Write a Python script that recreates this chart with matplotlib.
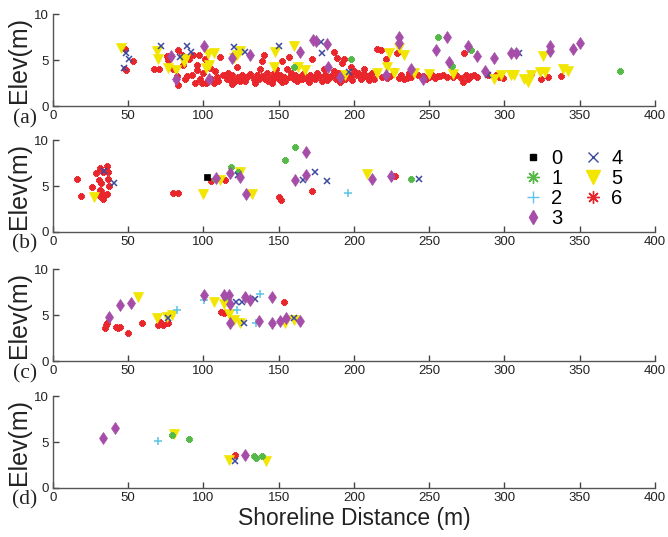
import matplotlib
matplotlib.use("Agg")
import matplotlib.pyplot as plt
from matplotlib.lines import Line2D

plt.rcParams['font.family'] = ['Liberation Sans', 'DejaVu Sans']

# axis setup
x_ticks = [0, 50, 100, 150, 200, 250, 300, 350, 400]
y_ticks = [0, 5, 10]
panel_labels = ['(a)', '(b)', '(c)', '(d)']
class_labels = ['0', '1', '2', '3', '4', '5', '6']

# ---- panel (a): (distance, elevation) per class
a_red = [(47.8, 6.2), (48, 4.0), (48.4, 3.9), (53.3, 4.9), (67, 4.0), (70.7, 4.0), (75.6, 5.5),
         (76.5, 5.0), (79.6, 4.0), (82.2, 3.3), (83.3, 2.3), (83.3, 6.1), (85.6, 5.6), (86.2, 4.5),
         (87.8, 2.9), (90.7, 5.1), (92.2, 3.4), (93.3, 5.6), (94.4, 2.5), (95.6, 4.5), (97.3, 5.6),
         (97.8, 3.0), (98.9, 2.5), (100, 3.6), (101, 5.1), (102, 2.5), (104.4, 4.1), (106.7, 2.5),
         (107.8, 3.8), (108.9, 3.2), (111, 5.3), (113.3, 3.4), (115.6, 3.0), (117.8, 2.9),
         (118.9, 3.4), (121, 2.7), (122, 4.3), (123.3, 3.2), (124.4, 2.7), (125.6, 3.4),
         (127.8, 2.7), (128.9, 3.2), (133.3, 2.9), (135.6, 3.4), (136.7, 2.9), (137.8, 4.0),
         (138.9, 4.9), (140, 5.6), (141, 2.9), (142, 3.6), (144.4, 3.1), (145.6, 2.5), (146.7, 3.6),
         (148.4, 4.0), (150, 2.9), (151, 3.4), (152.2, 4.9), (153.3, 3.2), (154.4, 2.7),
         (155.6, 4.0), (156.7, 5.4), (157.8, 3.2), (160, 2.9), (161, 3.4), (162.2, 2.7),
         (164.4, 3.2), (165.6, 2.9), (167.8, 3.2), (168.9, 2.9), (171, 3.4), (172.2, 5.1),
         (174.4, 2.9), (175.6, 3.6), (178.9, 2.7), (180, 4.0), (181, 3.4), (183.3, 3.1),
         (186.7, 5.9), (186.7, 3.8), (187.8, 3.0), (190, 3.6), (192.2, 4.7), (193.3, 5.1),
         (194.4, 2.9), (197.8, 3.2), (200, 3.8), (202.2, 3.4), (204.4, 2.9), (206.7, 4.0),
         (208.9, 3.2), (212.2, 3.6), (213.3, 2.9), (215.6, 6.2), (217.8, 6.1), (218.9, 3.2),
         (221, 5.1), (222, 3.1), (226.7, 3.8), (228.9, 5.8), (230, 3.1), (231, 3.4), (235.6, 3.1),
         (236.7, 3.6), (242.9, 3.4), (245.6, 3.3), (250, 3.2), (252.2, 3.4), (255.6, 3.3),
         (258.9, 3.4), (265.6, 3.2), (271, 3.1), (272.2, 2.6), (273.3, 5.8), (274.4, 3.4),
         (277.8, 3.3), (280, 3.4), (288.9, 3.4), (294.4, 3.4), (296.7, 3.2), (317.8, 3.5),
         (324.4, 2.9), (328.9, 3.2), (337.8, 3.3),
         (89, 3.3), (96, 3.9), (105, 3.0), (110, 2.7), (116, 3.6), (119, 2.4), (126, 3.0),
         (131, 3.5), (134, 2.5), (139, 3.3), (143, 2.7), (147, 3.1), (149, 3.5), (152, 2.6),
         (158, 3.6), (163, 3.0), (166, 3.5), (170, 2.6), (173, 3.1), (177, 3.3), (182, 2.8),
         (185, 3.3), (189, 3.3), (191, 2.6), (196, 3.5), (199, 2.8), (203, 3.6), (205, 3.1),
         (207, 3.5), (210, 2.8), (211, 3.4), (224, 3.3), (233, 2.9), (238, 3.2), (248, 3.0),
         (254, 3.1), (257, 3.3), (262, 3.2), (268, 3.4), (276, 3.0), (282, 3.2), (299, 3.1),
         (189, 5.2), (198, 4.3)]
a_yellow = [(45.3, 6.3), (68.9, 6.0), (70, 5.1), (76.7, 4.1), (82, 3.9), (87.8, 5.1), (87.3, 4.8),
            (103, 5.7), (107, 5.8), (104, 4.5), (102, 4.1), (120, 5.2), (122, 5.6), (124.4, 6.0),
            (146.7, 4.3), (147.8, 5.9), (160, 6.5), (163, 4.3), (167.8, 3.9),
            (194.4, 3.4), (215.6, 3.6), (222, 4.3), (223, 5.8), (226.7, 3.6), (230, 6.3),
            (233, 5.6), (240, 3.6), (250, 3.5), (265.6, 3.5), (293, 2.9), (297.8, 3.4),
            (304.4, 3.4), (306.7, 3.4), (313, 3.0), (315.6, 2.6), (317.8, 3.4), (324, 3.7),
            (326.7, 3.7), (325.6, 5.5), (338.9, 4.0), (342, 3.8)]
a_purple = [(78.4, 5.5), (82, 2.9), (100.4, 6.5), (104, 2.9), (118.7, 5.2), (131, 5.6), (164, 5.9),
            (173, 7.2), (175, 7.1), (182, 6.8), (183, 4.3), (191, 3.2), (221, 3.4), (230, 7.5),
            (230, 6.9), (237.8, 4.0), (246, 3.0), (254.4, 6.1), (262, 7.5), (263.3, 4.8),
            (276, 6.6), (282, 5.5), (287, 3.8), (293, 5.2), (304.4, 5.8), (307.8, 5.8),
            (330, 6.5), (330, 6.0), (345.6, 6.2), (350, 6.9)]
a_green = [(160, 4.3), (197.8, 5.1), (255.6, 7.5), (278, 6.1), (265, 4.4), (376.7, 3.8)]
a_blue = [(48.4, 5.8), (50.7, 5.1), (47, 4.1), (72, 6.5), (84.4, 5.4), (89, 6.6), (91.6, 5.9),
          (120, 6.4), (127.8, 5.9), (150, 6.5), (178, 7.0), (178.9, 5.8), (196.7, 3.7),
          (288.9, 3.4), (307.8, 5.8), (310, 5.8)]

# ---- panel (b)
b_black = [(102.2, 6.0)]
b_red = [(16, 5.8), (18.9, 3.9), (26.2, 4.9), (28.9, 6.4), (30.7, 5.7), (31.1, 7.0), (31.1, 3.9),
         (32.2, 4.5), (32.2, 5.4), (33.3, 6.6), (33.8, 3.9), (35.6, 7.2), (35.6, 4.2), (36.7, 5.8),
         (36.7, 6.6), (37.3, 5.0), (31.1, 4.6), (33.3, 3.6), (80, 4.3), (83.3, 4.3), (105, 5.6),
         (114.4, 5.7), (150, 3.8), (151.8, 3.5), (172.2, 4.5), (227.3, 6.1)]
b_green = [(108, 5.8), (118.4, 7.1), (122.7, 6.6), (154, 7.9), (160.7, 9.3), (237.8, 5.8)]
b_yellow = [(27, 3.8), (99.6, 4.2), (111, 5.7), (124, 6.5), (132, 4.2), (208.9, 6.3)]
b_purple = [(108.4, 5.9), (117.8, 6.4), (124, 6.0), (128.4, 4.2), (160.7, 5.7), (168.4, 8.7),
            (168.4, 6.2), (212.2, 5.8), (224.4, 6.1)]
b_blue = [(33.8, 6.7), (40.4, 5.3), (122.7, 6.2), (166.2, 5.7), (174.4, 6.6), (182.2, 5.6),
          (243.3, 5.8)]
b_cyan = [(196, 4.3)]

# ---- panel (c)
c_red = [(34.4, 3.6), (35, 3.9), (36, 4.1), (41.8, 3.7), (43.3, 3.6), (44.4, 3.7), (49.6, 3.1),
         (58.9, 4.2), (69.6, 3.9), (71, 4.3), (73.3, 3.9), (76.7, 4.1), (111.6, 5.3), (113.8, 5.2),
         (153.8, 6.4)]
c_purple = [(37.3, 4.8), (44.4, 6.1), (51.6, 6.3), (100.7, 7.2), (113.8, 7.2), (116.7, 7.2),
            (117.8, 6.2), (117.8, 4.1), (127.8, 7.0), (130.7, 6.7), (145.6, 7.0), (145.6, 4.1),
            (136.7, 4.4), (151.1, 4.4), (155.1, 4.7), (164, 4.4)]
c_yellow = [(56.7, 7.0), (69.3, 4.7), (75.6, 4.8), (78.9, 5.0), (106.7, 6.5), (113.8, 6.2),
            (116.7, 5.1), (120, 4.5), (124, 4.1), (154, 4.1), (160, 4.5)]
c_cyan = [(82.7, 5.6), (100.7, 6.7), (122.2, 5.6), (135, 4.1), (137.3, 7.3)]
c_blue = [(76.7, 4.7), (121.8, 6.5), (125.6, 6.5), (127, 4.2), (134.4, 6.8), (160, 4.7)]
c_green = [(114.4, 7.0)]

# ---- panel (d)
d_purple = [(33.3, 5.5), (41.1, 6.5), (127.8, 3.6)]
d_cyan = [(69.6, 5.1)]
d_yellow = [(80.4, 5.9), (116.7, 3.1), (141.8, 3.0)]
d_green = [(79.3, 5.8), (90.7, 5.3), (133.3, 3.5), (135, 3.3), (138.9, 3.5)]
d_red = [(120.7, 3.6)]
d_blue = [(120.7, 2.9)]

ASTER = (8, 2, 0)
style = {
    '0': dict(marker='s', color='black', ms=4.5),
    '1': dict(marker=ASTER, color='#55b948', ms=4, mew=2.4),
    '2': dict(marker='+', color='#5cc4e6', ms=6, mew=1.1),
    '3': dict(marker='d', color='#a54da8', ms=6.5),
    '4': dict(marker='x', color='#3b4aa0', ms=4.5, mew=1.1),
    '5': dict(marker='v', color='#f2e500', ms=7),
    '6': dict(marker=ASTER, color='#e8262b', ms=4, mew=2.4),
}
legend_size = {'0': (5, 1), '1': (9, 1.0), '2': (9, 1.0), '3': (7.5, 1),
               '4': (7, 1.0), '5': (10, 1), '6': (9, 1.0)}

panels = [
    [('6', a_red), ('5', a_yellow), ('1', a_green), ('4', a_blue), ('3', a_purple)],
    [('6', b_red), ('5', b_yellow), ('1', b_green), ('2', b_cyan), ('4', b_blue), ('3', b_purple),
     ('0', b_black)],
    [('6', c_red), ('5', c_yellow), ('2', c_cyan), ('1', c_green), ('4', c_blue), ('3', c_purple)],
    [('6', d_red), ('5', d_yellow), ('1', d_green), ('2', d_cyan), ('4', d_blue), ('3', d_purple)],
]

fig = plt.figure(figsize=(6.68, 5.37), dpi=100)
left, width = 0.0793, 0.901
bottoms = [0.8026, 0.568, 0.3277, 0.0913]
height = 0.1705

for i, (bot, groups) in enumerate(zip(bottoms, panels)):
    ax = fig.add_axes([left, bot, width, height])
    for cls, pts in groups:
        xs = [p[0] for p in pts]
        ys = [p[1] for p in pts]
        st = style[cls]
        ax.plot(xs, ys, linestyle='none', marker=st['marker'], color=st['color'],
                markersize=st['ms'], markeredgewidth=st.get('mew', 0.5),
                markeredgecolor=st['color'])
    ax.set_xlim(0, 400)
    ax.set_ylim(0, 10)
    ax.set_xticks(x_ticks)
    ax.set_yticks(y_ticks)
    for sp in ['top', 'right']:
        ax.spines[sp].set_visible(False)
    for sp in ['left', 'bottom']:
        ax.spines[sp].set_color('#555555')
        ax.spines[sp].set_linewidth(1.0)
    ax.tick_params(direction='in', length=4, width=1, color='#444444',
                   labelsize=9.5, labelcolor='#222222', pad=3)
    ax.set_ylabel('Elev(m)', fontsize=18, color='#222222')
    ax.yaxis.set_label_coords(-0.036, 0.5)
    ax.text(-0.047, -0.135, panel_labels[i], transform=ax.transAxes, ha='center', va='center',
            fontsize=15.5, family='Liberation Serif', color='#222222')
    if i == 3:
        ax.set_xlabel('Shoreline Distance (m)', fontsize=16.5, color='#222222', labelpad=2)
    if i == 1:
        handles = []
        for cls in class_labels:
            st = style[cls]
            ms, mew = legend_size[cls]
            handles.append(Line2D([], [], linestyle='none', marker=st['marker'], color=st['color'],
                                  markersize=ms, markeredgewidth=mew,
                                  markeredgecolor=st['color']))
        ax.legend(handles, class_labels, ncol=2, frameon=False, loc='upper left',
                  bbox_to_anchor=(0.768, 0.99), fontsize=14.5, handlelength=1.0,
                  handletextpad=0.4, columnspacing=1.0, labelspacing=0.05,
                  borderaxespad=0)

fig.savefig('out.png', dpi=100)
